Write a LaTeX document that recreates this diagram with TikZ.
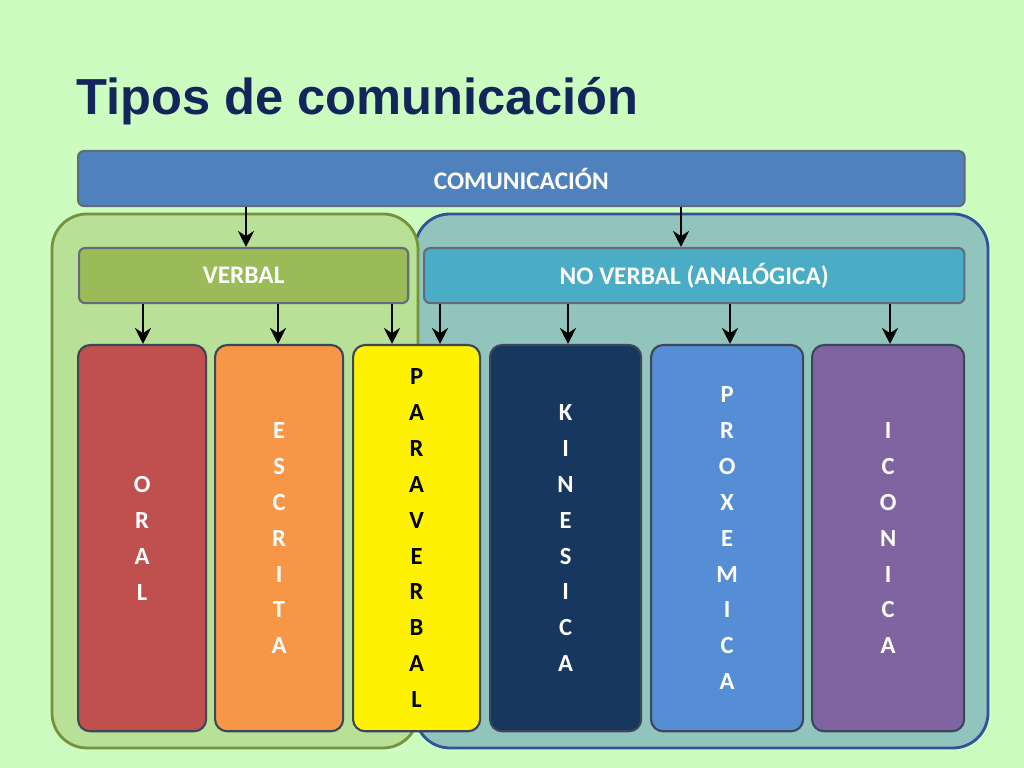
\documentclass[tikz,border=0pt]{standalone}
\usepackage{fontspec}
\setmainfont{Carlito}
\newfontfamily\titlefont{Liberation Sans}
\usetikzlibrary{arrows.meta}
\definecolor{bgGreen}{RGB}{205,252,192}
\definecolor{titleBlue}{RGB}{18,38,92}
\definecolor{grpGreen}{RGB}{184,224,150}
\definecolor{grpGreenB}{RGB}{118,146,60}
\definecolor{grpTeal}{RGB}{146,196,190}
\definecolor{grpTealB}{RGB}{47,85,151}
\definecolor{comBlue}{RGB}{79,129,189}
\definecolor{verbGreen}{RGB}{155,187,89}
\definecolor{noverbBlue}{RGB}{75,172,198}
\definecolor{oralRed}{RGB}{192,80,77}
\definecolor{escOrange}{RGB}{247,150,70}
\definecolor{kinNavy}{RGB}{23,55,94}
\definecolor{proxBlue}{RGB}{85,142,213}
\definecolor{iconPurple}{RGB}{128,100,162}
\definecolor{edgeDark}{RGB}{60,70,90}
\begin{document}
\begin{tikzpicture}[x=0.01cm,y=-0.01cm,
	group/.style={rounded corners=0.35cm, line width=0.8pt},
	bar/.style={
		rectangle,
		rounded corners=0.6mm,
		draw=edgeDark!80,
		line width=0.6pt,
		text=white,
		font=\fontsize{7.2pt}{8pt}\selectfont\bfseries,
		anchor=north west,
		inner sep=0pt,
		minimum height=0.55cm,
	},
	column/.style={
		rectangle,
		rounded corners=1.2mm,
		draw=edgeDark,
		line width=0.6pt,
		text=white,
		align=center,
		font=\fontsize{7pt}{10.2pt}\selectfont\bfseries,
		anchor=north west,
		inner sep=0pt,
		minimum height=3.86cm,
	},
	ArrowD/.style={-{Stealth[length=1.6mm,width=1.6mm]}, line width=0.75pt},
]
	\fill [bgGreen] (0,0) rectangle (1024,768);
	\node [anchor=west, text=titleBlue, font=\titlefont\fontsize{14.4pt}{16pt}\selectfont\bfseries] (title) at (64,101) {Tipos de comunicación};
	
	\draw [group, fill=grpTeal, draw=grpTealB] (415,214) rectangle (988,748);
	\draw [group, fill=grpGreen, draw=grpGreenB] (52,214) rectangle (418,748);
	
	\node [bar, fill=comBlue, minimum width=8.86cm] (com) at (77,150) {COMUNICACIÓN};
	\node [bar, fill=verbGreen, minimum width=3.29cm] (verb) at (78,247) {VERBAL};
	\node [bar, fill=noverbBlue, minimum width=5.40cm] (noverb) at (423,247) {NO VERBAL (ANALÓGICA)};
	
	\node [column, fill=oralRed, minimum width=1.28cm] (oral) at (77,344) {O\\R\\A\\L};
	\node [column, fill=escOrange, minimum width=1.28cm] (esc) at (214,344) {E\\S\\C\\R\\I\\T\\A};
	\node [column, fill=yellow, text=black, minimum width=1.27cm] (para) at (352,344) {P\\A\\R\\A\\V\\E\\R\\B\\A\\L};
	\node [column, fill=kinNavy, minimum width=1.51cm] (kin) at (489,344) {K\\I\\N\\E\\S\\I\\C\\A};
	\node [column, fill=proxBlue, minimum width=1.52cm] (prox) at (650,344) {P\\R\\O\\X\\E\\M\\I\\C\\A};
	\node [column, fill=iconPurple, minimum width=1.52cm] (icon) at (811,344) {I\\C\\O\\N\\I\\C\\A};
	
	\draw [ArrowD] (com.south -| 246,0) -- (verb.north -| 246,0);
	\draw [ArrowD] (com.south -| 681,0) -- (noverb.north -| 681,0);
	\draw [ArrowD] (verb.south -| 143,0) -- (oral.north -| 143,0);
	\draw [ArrowD] (verb.south -| 278,0) -- (esc.north -| 278,0);
	\draw [ArrowD] (verb.south -| 392,0) -- (para.north -| 392,0);
	\draw [ArrowD] (noverb.south -| 440,0) -- (para.north -| 440,0);
	\draw [ArrowD] (noverb.south -| 568,0) -- (kin.north -| 568,0);
	\draw [ArrowD] (noverb.south -| 730,0) -- (prox.north -| 730,0);
	\draw [ArrowD] (noverb.south -| 890,0) -- (icon.north -| 890,0);
\end{tikzpicture}
\end{document}
